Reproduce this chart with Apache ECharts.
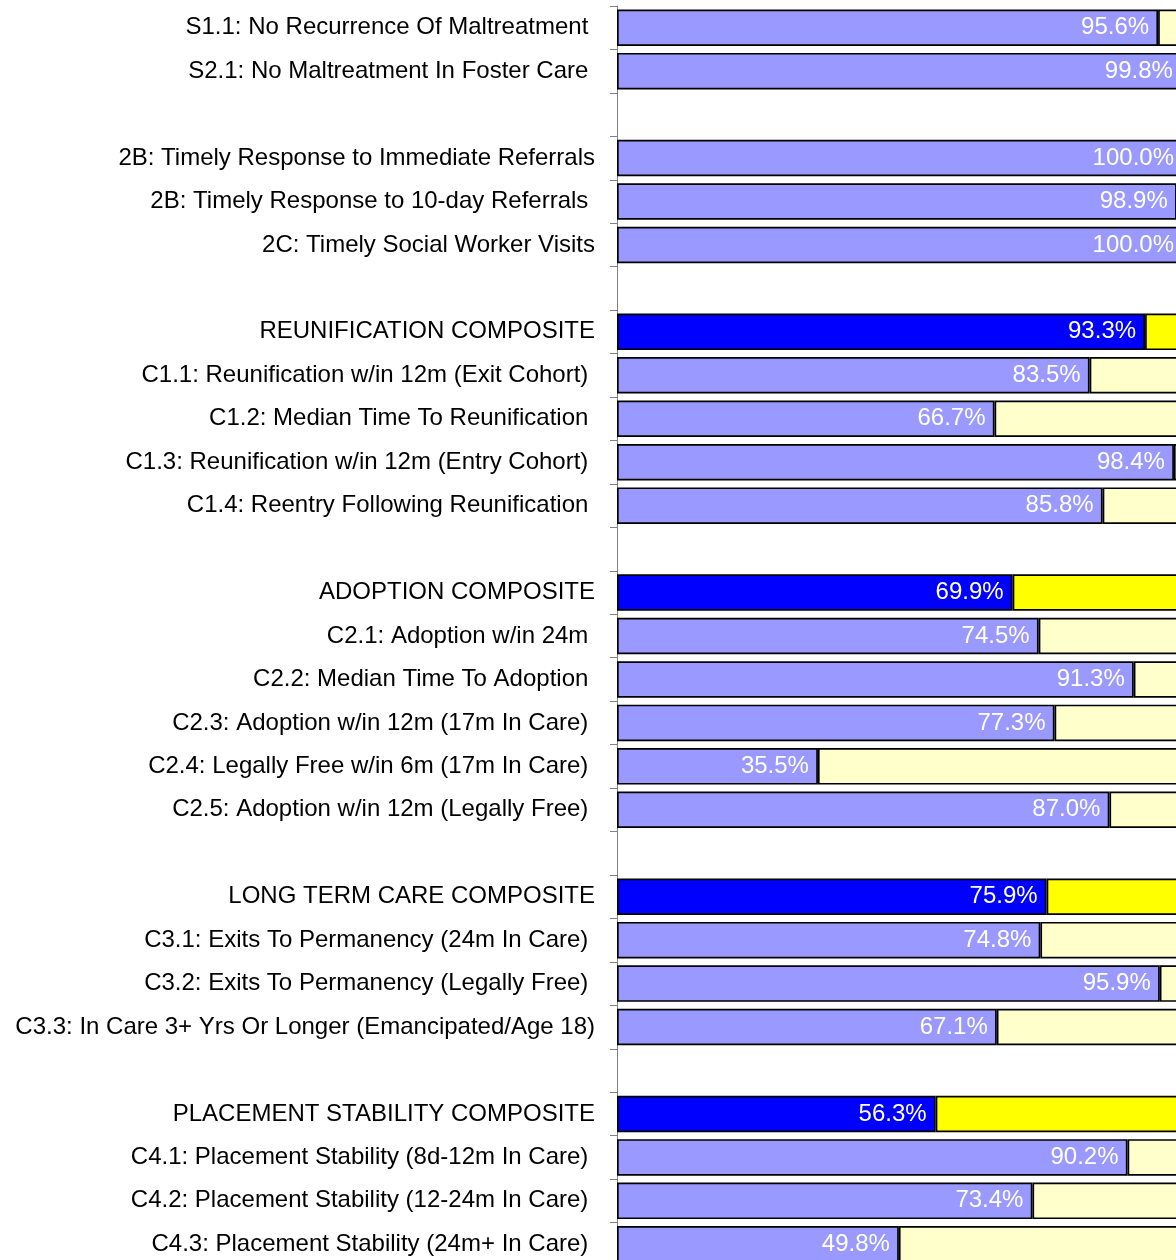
<!DOCTYPE html>
<html>
<head>
<meta charset="utf-8">
<title>Outcome Measures</title>
<script src="https://cdn.jsdelivr.net/npm/echarts@6/dist/echarts.min.js"></script>
<style>
  html, body { margin: 0; padding: 0; background: #fff; }
  #chartMeasures { width: 1176px; height: 1260px; }
</style>
</head>
<body>
<div id="chartMeasures"></div>
<script>
// category labels, top to bottom ('' = spacer row)
const measures = [
    'S1.1: No Recurrence Of Maltreatment ',
    'S2.1: No Maltreatment In Foster Care ',
    '',
    '2B: Timely Response to Immediate Referrals',
    '2B: Timely Response to 10-day Referrals ',
    '2C: Timely Social Worker Visits',
    '',
    'REUNIFICATION COMPOSITE',
    'C1.1: Reunification w/in 12m (Exit Cohort) ',
    'C1.2: Median Time To Reunification ',
    'C1.3: Reunification w/in 12m (Entry Cohort) ',
    'C1.4: Reentry Following Reunification ',
    '',
    'ADOPTION COMPOSITE',
    'C2.1: Adoption w/in 24m ',
    'C2.2: Median Time To Adoption ',
    'C2.3: Adoption w/in 12m (17m In Care) ',
    'C2.4: Legally Free w/in 6m (17m In Care) ',
    'C2.5: Adoption w/in 12m (Legally Free) ',
    '',
    'LONG TERM CARE COMPOSITE',
    'C3.1: Exits To Permanency (24m In Care) ',
    'C3.2: Exits To Permanency (Legally Free) ',
    'C3.3: In Care 3+ Yrs Or Longer (Emancipated/Age 18)',
    '',
    'PLACEMENT STABILITY COMPOSITE',
    'C4.1: Placement Stability (8d-12m In Care) ',
    'C4.2: Placement Stability (12-24m In Care) ',
    'C4.3: Placement Stability (24m+ In Care) '
];

// percent achieved per row (null = spacer)
const achieved = [
    95.6, 99.8, null,
    100.0, 98.9, 100.0, null,
    93.3, 83.5, 66.7, 98.4, 85.8, null,
    69.9, 74.5, 91.3, 77.3, 35.5, 87.0, null,
    75.9, 74.8, 95.9, 67.1, null,
    56.3, 90.2, 73.4, 49.8
];

// composite rows get the strong colours
const isComposite = [
    0, 0, 0,
    0, 0, 0, 0,
    1, 0, 0, 0, 0, 0,
    1, 0, 0, 0, 0, 0, 0,
    1, 0, 0, 0, 0,
    1, 0, 0, 0
];

const fontFamily = '"Liberation Sans", Arial, sans-serif';

var chartDom = document.getElementById('chartMeasures');
var myChart = echarts.init(chartDom, null, { renderer: 'canvas' });
var option;

const valueData = achieved.map(function (v, i) {
    if (v === null) return '-';
    return {
        value: v,
        itemStyle: { color: isComposite[i] ? '#0000FF' : '#9999FF' }
    };
});

const restData = achieved.map(function (v, i) {
    if (v === null || v >= 100) return '-';
    return {
        value: +(100 - v).toFixed(1),
        itemStyle: { color: isComposite[i] ? '#FFFF00' : '#FFFFCC' }
    };
});

option = {
    animation: false,
    textStyle: { fontFamily: fontFamily },
    grid: {
        left: 617,
        top: 6,
        height: 1260,
        right: -7,
        containLabel: false,
        outerBoundsMode: 'none'
    },
    xAxis: {
        type: 'value',
        min: 0,
        max: 100,
        show: false
    },
    yAxis: {
        type: 'category',
        inverse: true,
        data: measures,
        axisLine: { show: true, lineStyle: { color: '#808080', width: 1 } },
        axisTick: { show: true, length: 7, lineStyle: { color: '#808080' } },
        splitLine: { show: false },
        axisLabel: {
            color: '#000',
            fontSize: 24,
            fontFamily: fontFamily,
            margin: 22,
            interval: 0
        }
    },
    series: [
        {
            name: 'Achieved',
            type: 'bar',
            stack: 'total',
            barWidth: '84%',
            data: valueData,
            itemStyle: { borderColor: '#000', borderWidth: 1.7 },
            label: {
                show: true,
                position: 'insideRight',
                distance: 9,
                color: '#fff',
                fontSize: 24,
                fontFamily: fontFamily,
                formatter: function (p) {
                    return Number(p.value).toFixed(1) + '%';
                }
            }
        },
        {
            name: 'Remaining',
            type: 'bar',
            stack: 'total',
            barWidth: '84%',
            data: restData,
            itemStyle: { borderColor: '#000', borderWidth: 1.7 }
        }
    ]
};

option && myChart.setOption(option);
</script>
</body>
</html>
